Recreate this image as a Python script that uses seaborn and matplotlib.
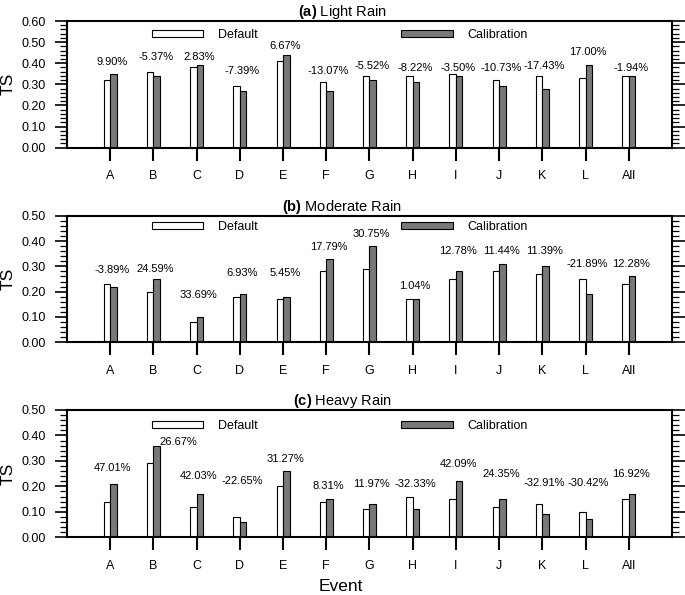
import pandas as pd
import seaborn as sns
import matplotlib.pyplot as plt
from matplotlib.patches import Patch
from matplotlib.ticker import MultipleLocator, FormatStrFormatter

# 1. data
events = ["A", "B", "C", "D", "E", "F", "G", "H", "I", "J", "K", "L", "All"]

light_default = [0.32, 0.36, 0.38, 0.29, 0.41, 0.31, 0.34, 0.34, 0.35, 0.32, 0.34, 0.33, 0.34]
light_calib = [0.35, 0.34, 0.39, 0.27, 0.44, 0.27, 0.32, 0.31, 0.34, 0.29, 0.28, 0.39, 0.34]
light_pct = ["9.90%", "-5.37%", "2.83%", "-7.39%", "6.67%", "-13.07%", "-5.52%",
             "-8.22%", "-3.50%", "-10.73%", "-17.43%", "17.00%", "-1.94%"]
light_pct_y = [0.408, 0.43, 0.43, 0.365, 0.482, 0.365, 0.387, 0.379, 0.379, 0.379, 0.387, 0.452, 0.379]

moderate_default = [0.23, 0.20, 0.08, 0.18, 0.17, 0.28, 0.29, 0.17, 0.25, 0.28, 0.27, 0.25, 0.23]
moderate_calib = [0.22, 0.25, 0.10, 0.19, 0.18, 0.33, 0.38, 0.17, 0.28, 0.31, 0.30, 0.19, 0.26]
moderate_pct = ["-3.89%", "24.59%", "33.69%", "6.93%", "5.45%", "17.79%", "30.75%",
                "1.04%", "12.78%", "11.44%", "11.39%", "-21.89%", "12.28%"]
moderate_pct_y = [0.284, 0.289, 0.188, 0.274, 0.274, 0.377, 0.426, 0.223, 0.359, 0.359, 0.359, 0.308, 0.308]

heavy_default = [0.14, 0.29, 0.12, 0.08, 0.20, 0.14, 0.11, 0.16, 0.15, 0.12, 0.13, 0.10, 0.15]
heavy_calib = [0.21, 0.36, 0.17, 0.06, 0.26, 0.15, 0.13, 0.11, 0.22, 0.15, 0.09, 0.07, 0.17]
heavy_pct = ["47.01%", "26.67%", "42.03%", "-22.65%", "31.27%", "8.31%", "11.97%",
             "-32.33%", "42.09%", "24.35%", "-32.91%", "-30.42%", "16.92%"]
heavy_pct_y = [0.272, 0.375, 0.242, 0.222, 0.306, 0.203, 0.208, 0.208, 0.289, 0.247, 0.213, 0.213, 0.247]
heavy_pct_dx = [0, 0.53, 0, 0, 0, 0, 0, 0, 0, 0, 0, 0, 0]

panels = [
    ("(a)", "Light Rain", light_default, light_calib, light_pct, light_pct_y, None, 0.60, 0.89),
    ("(b)", "Moderate Rain", moderate_default, moderate_calib, moderate_pct, moderate_pct_y, None, 0.50, 0.91),
    ("(c)", "Heavy Rain", heavy_default, heavy_calib, heavy_pct, heavy_pct_y, heavy_pct_dx, 0.50, 0.875),
]

# 2. style
sns.set_style("ticks")
plt.rcParams["font.family"] = ["Liberation Sans", "DejaVu Sans"]
plt.rcParams["mathtext.fontset"] = "custom"
plt.rcParams["mathtext.bf"] = "Liberation Sans:bold"
plt.rcParams["mathtext.rm"] = "Liberation Sans"
for key in ["text.color", "axes.labelcolor", "xtick.color", "ytick.color", "axes.edgecolor"]:
    plt.rcParams[key] = "black"

calib_color = "#787878"

fig = plt.figure(figsize=(6.85, 5.95), dpi=100)
axes_rects = [
    [0.0978, 0.7518, 0.8832, 0.2129],
    [0.0978, 0.4247, 0.8832, 0.2128],
    [0.0978, 0.0970, 0.8832, 0.2140],
]

for rect, (tag, name, dflt, calib, pct, pct_y, pct_dx, ymax, leg_y) in zip(axes_rects, panels):
    ax = fig.add_axes(rect)
    df = pd.DataFrame({
        "event": events * 2,
        "TS": dflt + calib,
        "run": ["Default"] * len(events) + ["Calibration"] * len(events),
    })
    sns.barplot(data=df, x="event", y="TS", hue="run", hue_order=["Default", "Calibration"],
                palette={"Default": "white", "Calibration": calib_color},
                width=0.3, gap=0, saturation=1, edgecolor="black", linewidth=0.8,
                errorbar=None, legend=False, ax=ax)

    ax.set_xlim(-1, 13)
    ax.set_ylim(0, ymax)
    ax.yaxis.set_major_locator(MultipleLocator(0.1))
    ax.yaxis.set_minor_locator(MultipleLocator(0.02))
    ax.yaxis.set_major_formatter(FormatStrFormatter("%.2f"))

    for sp in ax.spines.values():
        sp.set_visible(True)
        sp.set_linewidth(1.5)
        sp.set_color("black")
    ax.tick_params(axis="x", direction="out", length=9, width=1.5, top=False,
                   pad=7, labelsize=9, colors="black")
    ax.tick_params(axis="y", which="major", direction="out", length=9, width=1.2,
                   left=True, right=True, labelsize=9, pad=6, colors="black")
    ax.tick_params(axis="y", which="minor", direction="out", length=5, width=0.9,
                   left=True, right=True, colors="black")

    ax.set_xlabel("")
    ax.set_ylabel("TS", fontsize=12.5, color="black")
    ax.yaxis.set_label_coords(-0.085, 0.5)

    ax.set_title(r"$\mathbf{" + tag + "}$ " + name, x=0.455, fontsize=10.5, pad=3, color="black")

    for i, (lab, yy) in enumerate(zip(pct, pct_y)):
        dx = pct_dx[i] if pct_dx else 0
        ax.text(i + 0.05 + dx, yy, lab, ha="center", va="center", fontsize=8, color="black")

    handles = [Patch(facecolor="white", edgecolor="black", linewidth=0.8, label="Default"),
               Patch(facecolor=calib_color, edgecolor="black", linewidth=0.8, label="Calibration")]
    ax.legend(handles=handles, ncol=2, loc="center left", bbox_to_anchor=(0.14, leg_y),
              frameon=False, borderpad=0, borderaxespad=0, fontsize=9,
              handlelength=4.1, handleheight=0.45, handletextpad=1.2, columnspacing=11.5,
              labelcolor="black")

fig.text(341 / 685, 0.0135, "Event", ha="center", va="center", fontsize=12.5, color="black")

plt.savefig("out.png", dpi=100)
